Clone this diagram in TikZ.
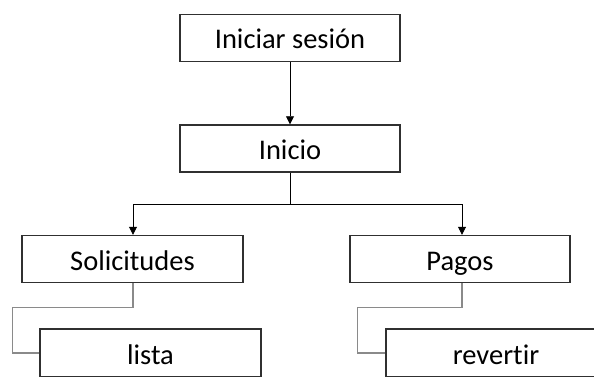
\documentclass[tikz,border=0pt]{standalone}
\usepackage{fontspec}
\setmainfont{Carlito}[Ligatures={NoCommon}]
\usetikzlibrary{arrows.meta}
\definecolor{boxline}{HTML}{303030}
\definecolor{linkgray}{HTML}{8A8A8A}
\begin{document}
\begin{tikzpicture}[x=1pt,y=-1pt,
  menubox/.style={draw=boxline,line width=1.4pt,fill=white,minimum width=220pt,
    minimum height=47pt,inner sep=0pt,text height=24pt,text depth=2pt,
    font=\fontsize{28.5}{32}\selectfont},
  flow/.style={draw=black,line width=0.8pt,-{Triangle[width=8pt,length=8pt]}},
  sublink/.style={draw=linkgray,line width=1.4pt}]
  \useasboundingbox (0,0) rectangle (594,377);
  \clip (0,0) rectangle (594,377);
  \fill[white] (0,0) rectangle (594,377);

  % menu entries
  \node[menubox] (start)  at (290,38)    {Iniciar sesión};
  \node[menubox] (inicio) at (290,148.5) {Inicio};
  \node[menubox,minimum width=221pt] (sol) at (132.5,259) {Solicitudes};
  \node[menubox] (pagos)  at (460,259)   {Pagos};
  \node[menubox,minimum width=221pt,minimum height=48pt] (lista) at (150.5,353) {lista};
  \node[menubox,minimum height=48pt] (rev) at (496,353) {revertir};

  % top-level flow
  \draw[flow] (start.south) -- (inicio.north);
  \coordinate (split) at ([yshift=-32pt]inicio.south);
  \draw[flow] (inicio.south) -- (split) -| ([xshift=0.5pt]sol.north);
  \draw[flow] (split) -| ([xshift=2pt]pagos.north);

  % sub-entries
  \draw[sublink] ([xshift=0.5pt]sol.south) -- ++(0,24) -| ([xshift=-27pt]lista.west) -- (lista.west);
  \draw[sublink] ([xshift=2pt]pagos.south) -- ++(0,24) -| ([xshift=-28pt]rev.west) -- (rev.west);
\end{tikzpicture}
\end{document}
